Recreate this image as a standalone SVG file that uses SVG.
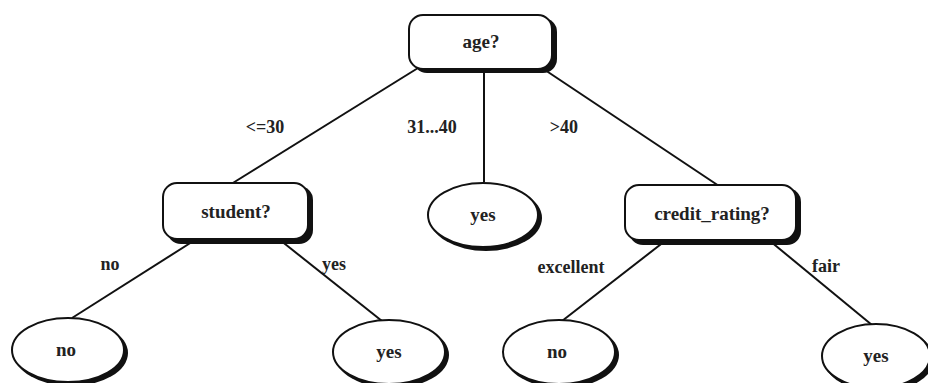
<svg xmlns="http://www.w3.org/2000/svg" width="928" height="383" viewBox="0 0 928 383">
<style>
text{font-family:"Liberation Serif","DejaVu Serif",serif;font-size:19px;font-weight:bold;fill:#222;text-anchor:middle}
.lbl{font-size:18px}
.box{fill:#fff;stroke:#111;stroke-width:2}
.sh{fill:#111;stroke:none}
.edge{stroke:#111;stroke-width:2;fill:none}
</style>
<rect width="928" height="383" fill="#fff"/>
<g id="edges">
<line class="edge" x1="418" y1="68" x2="228" y2="186"/>
<line class="edge" x1="484" y1="70" x2="484" y2="182"/>
<line class="edge" x1="542" y1="68" x2="722" y2="188"/>
<line class="edge" x1="195" y1="240" x2="72" y2="318"/>
<line class="edge" x1="280" y1="240" x2="382" y2="321"/>
<line class="edge" x1="665" y1="241" x2="562" y2="321"/>
<line class="edge" x1="770" y1="241" x2="872" y2="325"/>
</g>
<g id="edge-labels">
<text class="lbl" x="265" y="133">&lt;=30</text>
<text class="lbl" x="432" y="133">31...40</text>
<text class="lbl" x="564" y="133">&gt;40</text>
<text class="lbl" x="110" y="270">no</text>
<text class="lbl" x="334" y="270">yes</text>
<text class="lbl" x="571" y="273">excellent</text>
<text class="lbl" x="826" y="272">fair</text>
</g>
<g id="n-age">
<rect class="sh" x="413" y="18" width="144" height="55" rx="14"/>
<rect class="box" x="409" y="15" width="143" height="54" rx="14"/>
<text x="481" y="48">age?</text>
</g>
<g id="n-student">
<rect class="sh" x="167" y="186" width="146" height="58" rx="14"/>
<rect class="box" x="163" y="183" width="145" height="56" rx="14"/>
<text x="236" y="218">student?</text>
</g>
<g id="n-yes1">
<ellipse class="sh" cx="486" cy="218" rx="56" ry="33"/>
<ellipse class="box" cx="483" cy="215" rx="55" ry="32"/>
<text x="483" y="221">yes</text>
</g>
<g id="n-credit">
<rect class="sh" x="629" y="188" width="172" height="57" rx="14"/>
<rect class="box" x="625" y="185" width="171" height="55" rx="14"/>
<text x="712" y="220">credit_rating?</text>
</g>
<g id="n-no1">
<ellipse class="sh" cx="71" cy="353" rx="57" ry="33"/>
<ellipse class="box" cx="68" cy="350" rx="56" ry="32"/>
<text x="66" y="356">no</text>
</g>
<g id="n-yes2">
<ellipse class="sh" cx="392" cy="355" rx="57" ry="33"/>
<ellipse class="box" cx="389" cy="352" rx="56" ry="32"/>
<text x="389" y="358">yes</text>
</g>
<g id="n-no2">
<ellipse class="sh" cx="562" cy="355" rx="57" ry="33"/>
<ellipse class="box" cx="559" cy="352" rx="56" ry="32"/>
<text x="557" y="358">no</text>
</g>
<g id="n-yes3">
<ellipse class="sh" cx="879" cy="359" rx="55" ry="33"/>
<ellipse class="box" cx="876" cy="356" rx="54" ry="32"/>
<text x="876" y="362">yes</text>
</g>
</svg>
